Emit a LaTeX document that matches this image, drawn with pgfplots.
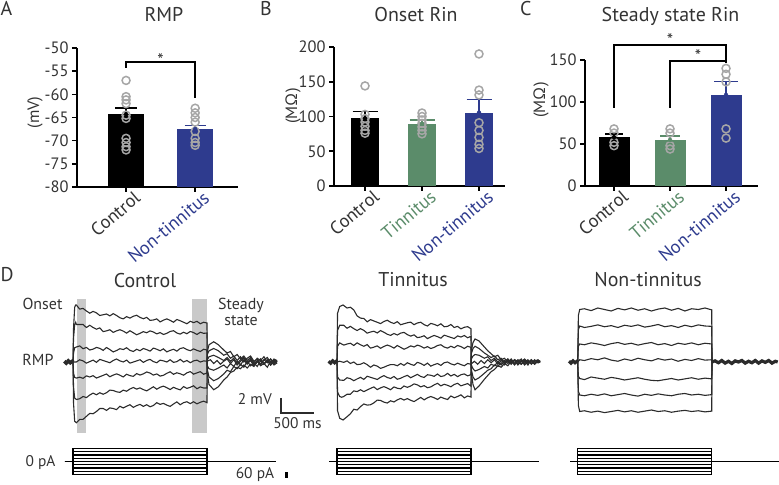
\documentclass[border=0pt]{standalone}
\usepackage{pgfplots}
\pgfplotsset{compat=1.18}
\usepackage{fontspec}
\setmainfont{PT Sans}
\definecolor{nblue}{HTML}{2E3B8E}
\definecolor{tgreen}{HTML}{5B8C6A}
\definecolor{ptgray}{HTML}{A6A6A6}
\definecolor{band}{HTML}{C9C9C9}
\definecolor{txt}{HTML}{333333}
\definecolor{trace}{HTML}{2B2B2B}
\newcommand{\fs}[1]{\fontsize{#1}{#1}\selectfont}
\pgfplotsset{
  barax/.style={
    scale only axis, anchor=south west, clip=false,
    axis x line=bottom, axis y line=left,
    axis line style={-, line width=1.6bp, black},
    every outer x axis line/.append style={-},
    every outer y axis line/.append style={-},
    tick align=outside, major tick length=5bp,
    tick style={line width=1.6bp, black},
    tick label style={font=\fs{16.5}, text=txt},
    /pgf/number format/assume math mode=true,
    xticklabel style={xshift=14bp, yshift=-1bp, rotate=40, anchor=east, font=\fs{18.5}},
  },
  pts/.style={only marks, mark=o, mark size=4bp, mark options={draw=ptgray, fill=none, line width=1.5bp}},
  eb/.style n args={2}{only marks, mark=none, #1, error bars/.cd, y dir=plus, y explicit,
     error bar style={line width=1.5bp, #1}, error mark options={rotate=90, mark size=#2, line width=1.5bp, #1}},
  trax/.style={anchor=south west, hide axis, clip=false, x=0.067bp, y=7.5bp, xmin=-200, xmax=3700, ymin=-10, ymax=10},
  curax/.style={anchor=south west, hide axis, clip=false, x=0.067bp, y=0.1bp, xmin=-200, xmax=3700, ymin=-150, ymax=150},
  tr/.style={trace, line width=1.1bp},
}
\begin{document}
\begin{tikzpicture}
\path[use as bounding box] (0,0) rectangle (779bp,485bp);

% ---------------- Panel A ----------------
\begin{axis}[barax, at={(77bp,298bp)}, width=161bp, height=139bp,
  xmin=-0.71, xmax=1.62, ymin=-80, ymax=-50, ytick={-80,-75,...,-50},
  xtick={0,1}, xticklabels={Control, {\textcolor{nblue}{Non-tinnitus}}}]
\addplot[fill=black, draw=none] coordinates {(-0.26,-80) (-0.26,-64.3) (0.26,-64.3) (0.26,-80)} -- cycle;
\addplot[fill=nblue, draw=none] coordinates {(0.74,-80) (0.74,-67.5) (1.26,-67.5) (1.26,-80)} -- cycle;
\addplot[pts] coordinates {(0,-57) (0,-60.5) (0,-61.2) (0,-62) (0,-64.5) (0,-65.2) (0,-69.5) (0,-70.4) (0,-71.3) (0,-72)};
\addplot[pts] coordinates {(1,-63) (1,-64) (1,-65) (1,-66) (1,-68) (1,-69.5) (1,-70.4) (1,-71)};
\addplot[eb={black}{11bp}] coordinates {(0,-64.3) +- (0,1.4)};
\addplot[eb={nblue}{10.5bp}] coordinates {(1,-67.5) +- (0,0.8)};
\draw[line width=1.5bp, black] (axis cs:0,-54.3) |- (axis cs:1,-53) -- (axis cs:1,-60.8);
\node[font=\fs{18}, text=txt, anchor=base, inner sep=0pt] at (axis cs:0.5,-53.9) {*};
\end{axis}

% ---------------- Panel B ----------------
\begin{axis}[barax, at={(334bp,299bp)}, width=171bp, height=139bp,
  xmin=-0.544, xmax=2.456, ymin=0, ymax=200, ytick={0,50,...,200},
  xtick={0,1,2}, xticklabels={Control, {\textcolor{tgreen}{Tinnitus}}, {\textcolor{nblue}{Non-tinnitus}}}]
\addplot[ybar, bar shift=0pt, bar width=28bp, fill=black, draw=none] coordinates {(0,97.4)};
\addplot[ybar, bar shift=0pt, bar width=28bp, fill=tgreen, draw=none] coordinates {(1,89.5)};
\addplot[ybar, bar shift=0pt, bar width=28bp, fill=nblue, draw=none] coordinates {(2,105.5)};
\addplot[pts] coordinates {(0,144) (0,103) (0,97) (0,92) (0,86) (0,80) (0,76)};
\addplot[pts] coordinates {(1,105) (1,100) (1,95) (1,90) (1,85) (1,80) (1,75)};
\addplot[pts] coordinates {(2,190) (2,138) (2,131) (2,91) (2,80) (2,70) (2,60) (2,54)};
\addplot[eb={black}{12.5bp}] coordinates {(0,97.4) +- (0,9.6)};
\addplot[eb={tgreen}{12.5bp}] coordinates {(1,89.5) +- (0,5.5)};
\addplot[eb={nblue}{12.5bp}] coordinates {(2,105.5) +- (0,19)};
\end{axis}

% ---------------- Panel C ----------------
\begin{axis}[barax, at={(585bp,299bp)}, width=173bp, height=126bp,
  xmin=-0.518, xmax=2.571, ymin=0, ymax=150, ytick={0,50,100,150},
  xtick={0,1,2}, xticklabels={Control, {\textcolor{tgreen}{Tinnitus}}, {\textcolor{nblue}{Non-tinnitus}}}]
\addplot[ybar, bar shift=0pt, bar width=31bp, fill=black, draw=none] coordinates {(0,58)};
\addplot[ybar, bar shift=0pt, bar width=31bp, fill=tgreen, draw=none] coordinates {(1,54.8)};
\addplot[ybar, bar shift=0pt, bar width=31bp, fill=nblue, draw=none] coordinates {(2,108.3)};
\addplot[pts] coordinates {(0,68) (0,63) (0,52) (0,48)};
\addplot[pts] coordinates {(1,68) (1,63) (1,48) (1,44)};
\addplot[pts] coordinates {(2,140) (2,133) (2,124) (2,68) (2,57)};
\addplot[eb={black}{9bp}] coordinates {(0,58) +- (0,4)};
\addplot[eb={tgreen}{10bp}] coordinates {(1,54.8) +- (0,4.7)};
\addplot[eb={nblue}{12bp}] coordinates {(2,108.3) +- (0,16.3)};
\draw[line width=1.5bp, black] (axis cs:0,93) |- (axis cs:2,168) -- (axis cs:2,150);
\draw[line width=1.5bp, black] (axis cs:1,93) |- (axis cs:2,149) -- (axis cs:2,146);
\node[font=\fs{18}, text=txt, anchor=base, inner sep=0pt] at (axis cs:1,166.5) {*};
\node[font=\fs{18}, text=txt, anchor=base, inner sep=0pt] at (axis cs:1.5,147.5) {*};
\end{axis}

% ---------------- Panel D: Control voltage ----------------
\begin{axis}[trax, at={(59.6bp,48bp)}]
\addplot[fill=band, draw=none] coordinates {(64,8.4) (190,8.4) (190,-9.47) (64,-9.47)} -- cycle;
\addplot[fill=band, draw=none] coordinates {(1770,8.4) (2000,8.4) (2000,-9.47) (1770,-9.47)} -- cycle;
\addplot[trace, line width=3.5bp] coordinates {(-130,0.1) (-100,-0.15) (-70,0.15) (-40,-0.1) (-10,0.1) (0,0)};
\addplot[tr] coordinates {(0,0) (8,4.5) (25,7.3) (40,7.6) (50,7.6) (100,7.05) (150,7.15) (200,6.8) (250,6.5) (300,6.75) (350,6.55) (400,6.2) (450,6.3) (500,6.4) (550,6.15) (600,6.45) (650,6.2) (700,5.9) (750,5.75) (800,6.05) (850,5.85) (900,6.1) (950,6.23) (1000,5.95) (1050,5.77) (1100,5.95) (1150,5.55) (1200,5.6) (1250,5.75) (1300,5.35) (1350,5.58) (1400,5.75) (1450,5.55) (1500,5.3) (1550,5.67) (1600,5.5) (1650,5.3) (1700,5.1) (1750,5.43) (1800,5.25) (1850,5.42) (1900,5.1) (1950,5.3) (2000,5.2) (2005,-1.5) (2030,-3.0) (2100,-3.7) (2170,-3.3) (2250,-2.4) (2300,-2.0) (2350,-1.4) (2400,-1.2) (2450,-0.7) (2500,-0.9) (2550,-0.4) (2600,-0.8) (2650,-0.3) (2700,-0.6) (2750,0.1) (2800,-0.5) (2850,-0.2) (2900,-0.7) (2950,0.1) (3000,-0.4) (3045,-0.1)};
\addplot[tr] coordinates {(0,0) (8,3.2) (25,5.0) (40,5.3) (50,5.0) (100,5.0) (150,5.0) (200,4.6) (250,4.9) (300,4.6) (350,4.37) (400,4.55) (450,4.05) (500,4.15) (550,4.3) (600,3.95) (650,4.15) (700,4.3) (750,4.12) (800,3.85) (850,4.17) (900,3.9) (950,3.63) (1000,3.82) (1050,4.05) (1100,3.9) (1150,4.15) (1200,4.0) (1250,3.75) (1300,3.92) (1350,3.67) (1400,3.82) (1450,4.07) (1500,4.17) (1550,3.87) (1600,3.72) (1650,3.97) (1700,3.77) (1750,4.07) (1800,3.92) (1850,3.67) (1900,3.97) (1950,3.82) (2000,3.87) (2005,-1.0) (2030,-2.0) (2100,-2.5) (2170,-2.2) (2250,-1.6) (2300,-1.1) (2350,-1.3) (2400,-0.6) (2450,-0.9) (2500,-0.3) (2550,-0.7) (2600,0.1) (2650,-0.5) (2700,-0.1) (2750,-0.6) (2800,0.2) (2850,-0.3) (2900,0.3) (2950,-0.4) (3000,0.1) (3045,-0.2)};
\addplot[tr] coordinates {(0,0) (8,1.2) (25,1.9) (50,2.0) (100,2.15) (150,1.77) (200,1.94) (250,1.6) (300,1.72) (350,1.94) (400,1.82) (450,1.55) (500,1.93) (550,1.66) (600,1.34) (650,1.53) (700,1.77) (750,1.66) (800,1.9) (850,1.55) (900,1.4) (950,1.7) (1000,1.5) (1050,1.8) (1100,1.65) (1150,1.45) (1200,1.85) (1250,1.7) (1300,1.5) (1350,1.75) (1400,1.35) (1450,1.55) (1500,1.7) (1550,1.45) (1600,1.8) (1650,1.9) (1700,1.65) (1750,1.5) (1800,1.75) (1850,1.55) (1900,1.4) (1950,1.7) (2000,1.6) (2005,-0.5) (2030,-0.9) (2100,-1.1) (2170,-0.8) (2250,-0.4) (2300,-0.8) (2350,-0.2) (2400,-0.6) (2450,0.1) (2500,-0.4) (2550,0.3) (2600,-0.3) (2650,0.2) (2700,-0.5) (2750,0.1) (2800,0.4) (2850,-0.2) (2900,0.2) (2950,-0.4) (3000,0.3) (3045,0)};
\addplot[tr] coordinates {(0,0) (50,0.0) (100,0.3) (150,0.15) (200,-0.15) (250,0.05) (300,0.25) (350,-0.05) (400,0.35) (450,0.2) (500,0.05) (550,-0.1) (600,0.2) (650,0.4) (700,0.15) (750,0.0) (800,0.25) (850,-0.15) (900,0.0) (950,0.15) (1000,0.3) (1050,-0.05) (1100,0.2) (1150,0.35) (1200,0.05) (1250,-0.1) (1300,0.25) (1350,0.15) (1400,0.0) (1450,0.3) (1500,-0.05) (1550,0.05) (1600,0.35) (1650,0.0) (1700,0.2) (1750,-0.1) (1800,0.15) (1850,0.25) (1900,0.0) (1950,0.15) (2000,0.1) (2050,0.3) (2100,-0.2) (2150,0.2) (2200,-0.3) (2250,0.1) (2300,0.4) (2350,-0.2) (2400,0.3) (2450,-0.4) (2500,0.1) (2550,0.5) (2600,-0.1) (2650,0.3) (2700,-0.5) (2750,0.0) (2800,0.4) (2850,-0.3) (2900,0.2) (2950,-0.4) (3000,0.3) (3045,0)};
\addplot[tr] coordinates {(0,0) (8,-1.5) (25,-2.05) (50,-2.15) (100,-2.02) (150,-2.18) (200,-1.85) (250,-2.0) (300,-1.82) (350,-2.14) (400,-1.96) (450,-1.78) (500,-1.6) (550,-1.97) (600,-1.75) (650,-1.58) (700,-1.76) (750,-1.99) (800,-1.63) (850,-1.82) (900,-1.91) (950,-1.55) (1000,-1.74) (1050,-1.58) (1100,-1.33) (1150,-1.47) (1200,-1.75) (1250,-1.59) (1300,-1.88) (1350,-1.77) (1400,-1.51) (1450,-1.3) (1500,-1.64) (1550,-1.44) (1600,-1.57) (1650,-1.76) (1700,-1.45) (1750,-1.28) (1800,-1.62) (1850,-1.45) (1900,-1.29) (1950,-1.63) (2000,-1.47) (2005,0.3) (2030,0.7) (2100,0.9) (2170,0.6) (2250,0.2) (2300,0.6) (2350,0.1) (2400,0.5) (2450,-0.2) (2500,0.3) (2550,0.6) (2600,-0.1) (2650,0.4) (2700,-0.3) (2750,0.2) (2800,-0.4) (2850,0.3) (2900,-0.1) (2950,0.4) (3000,-0.2) (3045,0.1)};
\addplot[tr] coordinates {(0,0) (8,-3.3) (25,-4.8) (50,-5.0) (100,-4.9) (150,-4.6) (200,-4.75) (250,-4.4) (300,-4.15) (350,-4.37) (400,-4.1) (450,-4.3) (500,-4.1) (550,-3.75) (600,-3.8) (650,-3.97) (700,-4.05) (750,-3.75) (800,-3.9) (850,-3.6) (900,-3.4) (950,-3.62) (1000,-3.45) (1050,-3.68) (1100,-3.85) (1150,-3.58) (1200,-3.3) (1250,-3.63) (1300,-3.37) (1350,-3.22) (1400,-3.42) (1450,-3.67) (1500,-3.37) (1550,-3.57) (1600,-3.72) (1650,-3.27) (1700,-3.52) (1750,-3.37) (1800,-3.17) (1850,-3.57) (1900,-3.32) (1950,-3.47) (2000,-3.47) (2005,1.0) (2030,1.5) (2100,1.8) (2170,1.5) (2250,0.9) (2300,1.1) (2350,0.5) (2400,0.8) (2450,0.2) (2500,0.7) (2550,0.0) (2600,0.5) (2650,0.8) (2700,0.1) (2750,0.4) (2800,-0.3) (2850,0.3) (2900,0.6) (2950,-0.1) (3000,0.4) (3045,0.2)};
\addplot[tr] coordinates {(0,0) (8,-5.5) (25,-7.9) (50,-8.1) (100,-7.65) (150,-7.65) (200,-7.25) (250,-6.85) (300,-6.9) (350,-6.6) (400,-6.2) (450,-6.2) (500,-6.45) (550,-6.12) (600,-6.2) (650,-6.35) (700,-5.9) (750,-6.12) (800,-5.9) (850,-5.7) (900,-6.05) (950,-5.82) (1000,-5.65) (1050,-5.92) (1100,-5.7) (1150,-5.97) (1200,-5.8) (1250,-5.42) (1300,-5.65) (1350,-5.52) (1400,-5.75) (1450,-5.92) (1500,-5.6) (1550,-5.32) (1600,-5.7) (1650,-5.42) (1700,-5.3) (1750,-5.55) (1800,-5.3) (1850,-5.58) (1900,-5.37) (1950,-5.22) (2000,-5.42) (2005,1.4) (2030,2.3) (2100,2.7) (2170,2.3) (2250,1.6) (2300,1.2) (2350,1.4) (2400,0.7) (2450,1.0) (2500,0.4) (2550,0.8) (2600,0.2) (2650,0.6) (2700,-0.1) (2750,0.5) (2800,0.2) (2850,0.7) (2900,0.0) (2950,0.4) (3000,-0.2) (3045,0.2)};
\draw[trace, line width=2bp] (axis cs:3100,-4.8) -- (axis cs:3100,-6.8) -- (axis cs:3600,-6.8);
\end{axis}

% ---------------- Panel D: Tinnitus voltage ----------------
\begin{axis}[trax, at={(323.6bp,48bp)}]
\addplot[trace, line width=3.2bp] coordinates {(-125,0.1) (-95,-0.15) (-65,0.15) (-35,-0.1) (-10,0.1) (0,0)};
\addplot[tr] coordinates {(0,0) (8,6.5) (40,7.4) (90,7.6) (150,7.2) (200,7.3) (250,6.95) (300,6.15) (350,5.85) (400,5.8) (450,5.35) (500,5.65) (550,5.47) (600,5.3) (650,5.12) (700,5.4) (750,5.57) (800,5.3) (850,5.13) (900,5.38) (950,4.97) (1000,5.1) (1050,5.23) (1100,5.32) (1150,4.97) (1200,5.2) (1250,5.3) (1300,4.98) (1350,4.8) (1400,5.15) (1450,5.02) (1500,4.83) (1550,5.09) (1600,4.7) (1650,4.75) (1700,5.0) (1750,4.6) (1800,4.75) (1850,4.42) (1900,4.63) (1950,4.71) (2000,4.43) (2005,-1.5) (2030,-3.0) (2060,-3.7) (2120,-3.2) (2200,-2.3) (2250,-1.8) (2300,-1.3) (2350,-1.0) (2400,-0.5) (2450,-0.7) (2500,-0.2) (2550,-0.5) (2600,0.1) (2650,-0.4) (2700,0.2) (2750,-0.3) (2800,0.1) (2850,-0.4) (2900,0.3) (2950,-0.2) (3000,0.2) (3030,-0.1)};
\addplot[tr] coordinates {(0,0) (8,4.2) (40,4.9) (100,4.9) (150,4.5) (200,4.75) (250,4.45) (300,4.2) (350,4.45) (400,4.22) (450,3.85) (500,4.0) (550,4.1) (600,3.87) (650,4.19) (700,3.97) (750,3.7) (800,3.55) (850,3.8) (900,3.6) (950,3.85) (1000,3.95) (1050,3.65) (1100,3.45) (1150,3.62) (1200,3.25) (1250,3.33) (1300,3.5) (1350,3.12) (1400,3.35) (1450,3.54) (1500,3.38) (1550,3.18) (1600,3.58) (1650,3.43) (1700,3.28) (1750,3.13) (1800,3.48) (1850,3.33) (1900,3.53) (1950,3.23) (2000,3.43) (2005,-1.0) (2030,-2.0) (2060,-2.4) (2120,-2.1) (2200,-1.5) (2250,-1.1) (2300,-0.9) (2350,-0.4) (2400,-0.6) (2450,-0.1) (2500,-0.4) (2550,0.2) (2600,-0.3) (2650,0.3) (2700,-0.2) (2750,0.2) (2800,-0.4) (2850,0.1) (2900,-0.2) (2950,0.3) (3000,-0.1) (3030,0.2)};
\addplot[tr] coordinates {(0,0) (8,2.1) (40,2.55) (100,2.25) (150,2.4) (200,2.5) (250,2.2) (300,2.55) (350,2.3) (400,2.1) (450,2.32) (500,1.85) (550,1.98) (600,2.15) (650,1.83) (700,2.07) (750,2.26) (800,2.1) (850,1.85) (900,2.2) (950,1.95) (1000,1.7) (1050,1.9) (1100,2.15) (1150,2.0) (1200,2.25) (1250,2.1) (1300,1.85) (1350,2.05) (1400,1.8) (1450,1.95) (1500,2.2) (1550,2.3) (1600,2.0) (1650,1.85) (1700,2.1) (1750,1.9) (1800,2.2) (1850,2.05) (1900,1.8) (1950,2.1) (2000,1.95) (2005,-0.4) (2030,-0.9) (2060,-1.2) (2120,-1.0) (2200,-0.6) (2250,-0.8) (2300,-0.3) (2350,-0.5) (2400,0.0) (2450,-0.4) (2500,0.2) (2550,-0.2) (2600,0.3) (2650,-0.3) (2700,0.1) (2750,0.4) (2800,-0.2) (2850,0.2) (2900,-0.3) (2950,0.1) (3000,0.3) (3030,0)};
\addplot[tr] coordinates {(0,0) (40,0.1) (100,-0.05) (150,0.15) (200,-0.2) (250,0.0) (300,-0.35) (350,-0.3) (400,-0.1) (450,-0.35) (500,-0.7) (550,-0.4) (600,-0.55) (650,-0.85) (700,-0.7) (750,-0.5) (800,-0.35) (850,-0.35) (900,-0.5) (950,-0.2) (1000,-0.45) (1050,-0.1) (1100,-0.3) (1150,-0.45) (1200,-0.05) (1250,-0.2) (1300,-0.45) (1350,-0.15) (1400,-0.55) (1450,-0.35) (1500,-0.2) (1550,-0.45) (1600,-0.1) (1650,0.0) (1700,-0.25) (1750,-0.4) (1800,-0.15) (1850,-0.35) (1900,-0.5) (1950,-0.2) (2000,-0.3) (2050,0.1) (2100,-0.3) (2150,0.2) (2200,-0.2) (2250,0.3) (2300,-0.1) (2350,0.3) (2400,-0.3) (2450,0.2) (2500,-0.2) (2550,0.4) (2600,-0.1) (2650,0.2) (2700,-0.4) (2750,0.1) (2800,0.3) (2850,-0.2) (2900,0.2) (2950,-0.3) (3000,0.2) (3030,0)};
\addplot[tr] coordinates {(0,0) (8,-2.0) (40,-2.4) (100,-2.45) (150,-2.1) (200,-2.22) (250,-2.49) (300,-2.26) (350,-2.04) (400,-2.32) (450,-1.9) (500,-2.04) (550,-2.18) (600,-2.33) (650,-2.03) (700,-1.82) (750,-2.06) (800,-2.2) (850,-1.93) (900,-2.3) (950,-2.17) (1000,-1.95) (1050,-1.78) (1100,-2.1) (1150,-1.87) (1200,-1.65) (1250,-1.93) (1300,-2.06) (1350,-1.7) (1400,-1.77) (1450,-1.91) (1500,-1.6) (1550,-1.94) (1600,-1.83) (1650,-1.52) (1700,-1.86) (1750,-1.65) (1800,-1.95) (1850,-1.7) (1900,-1.59) (1950,-1.85) (2000,-1.68) (2005,0.4) (2030,0.8) (2060,1.0) (2120,0.9) (2200,0.5) (2250,0.7) (2300,0.2) (2350,0.5) (2400,0.0) (2450,0.4) (2500,-0.2) (2550,0.3) (2600,-0.1) (2650,0.3) (2700,-0.3) (2750,0.2) (2800,0.0) (2850,0.3) (2900,-0.2) (2950,0.2) (3000,-0.1) (3030,0.1)};
\addplot[tr] coordinates {(0,0) (8,-4.0) (40,-4.6) (70,-4.7) (100,-4.6) (150,-4.3) (200,-4.3) (250,-3.85) (300,-3.95) (350,-3.7) (400,-3.95) (450,-3.73) (500,-3.52) (550,-3.32) (600,-3.68) (650,-3.45) (700,-3.28) (750,-3.47) (800,-3.7) (850,-3.32) (900,-3.5) (950,-3.58) (1000,-3.2) (1050,-3.38) (1100,-3.2) (1150,-2.92) (1200,-3.05) (1250,-3.32) (1300,-3.15) (1350,-3.43) (1400,-3.32) (1450,-3.05) (1500,-2.84) (1550,-3.18) (1600,-2.97) (1650,-3.11) (1700,-3.3) (1750,-2.99) (1800,-2.84) (1850,-3.18) (1900,-3.03) (1950,-2.88) (2000,-3.22) (2005,1.1) (2030,1.8) (2060,2.1) (2120,1.8) (2200,1.2) (2250,0.9) (2300,0.6) (2350,0.8) (2400,0.3) (2450,0.5) (2500,0.0) (2550,0.4) (2600,-0.2) (2650,0.3) (2700,0.1) (2750,-0.3) (2800,0.2) (2850,-0.1) (2900,0.3) (2950,-0.2) (3000,0.1) (3030,0)};
\addplot[tr] coordinates {(0,0) (8,-6.5) (40,-7.5) (90,-7.73) (150,-7.3) (200,-6.9) (250,-6.3) (300,-6.4) (350,-5.95) (400,-5.6) (450,-5.75) (500,-5.7) (550,-5.45) (600,-5.08) (650,-5.13) (700,-5.35) (750,-5.47) (800,-5.17) (850,-5.33) (900,-5.05) (950,-4.86) (1000,-5.07) (1050,-4.88) (1100,-5.1) (1150,-5.28) (1200,-5.0) (1250,-4.72) (1300,-5.05) (1350,-4.78) (1400,-4.6) (1450,-4.77) (1500,-5.0) (1550,-4.68) (1600,-4.86) (1650,-5.0) (1700,-4.53) (1750,-4.77) (1800,-4.6) (1850,-4.38) (1900,-4.78) (1950,-4.53) (2000,-4.67) (2005,1.5) (2030,2.6) (2060,3.07) (2120,2.8) (2200,2.0) (2250,1.5) (2300,1.1) (2350,0.7) (2400,0.9) (2450,0.3) (2500,0.5) (2550,0.0) (2600,0.4) (2650,-0.2) (2700,0.3) (2750,0.0) (2800,0.4) (2850,-0.1) (2900,0.2) (2950,-0.3) (3000,0.2) (3030,0.1)};
\end{axis}

% ---------------- Panel D: Non-tinnitus voltage ----------------
\begin{axis}[trax, at={(564.3bp,48bp)}]
\addplot[trace, line width=3.2bp] coordinates {(-130,0.1) (-100,-0.15) (-70,0.15) (-40,-0.1) (-10,0.1) (0,0)};
\addplot[tr] coordinates {(0,0) (10,6.2) (30,7.0) (100,7.1) (200,6.85) (300,7.2) (400,7.0) (500,6.8) (600,7.15) (700,6.95) (800,7.2) (900,6.9) (1000,7.1) (1100,6.8) (1200,7.05) (1300,7.2) (1400,6.9) (1500,7.15) (1600,6.8) (1700,7.1) (1800,7.0) (1900,7.2) (2000,6.95) (2005,0)};
\addplot[tr] coordinates {(0,0) (10,4.3) (30,4.8) (100,4.6) (200,4.75) (300,4.95) (400,4.7) (500,4.85) (600,4.6) (700,4.9) (800,4.75) (900,4.95) (1000,4.65) (1100,4.8) (1200,5.0) (1300,4.7) (1400,4.85) (1500,4.6) (1600,4.9) (1700,4.7) (1800,4.95) (1900,4.8) (2000,4.75) (2005,0)};
\addplot[tr] coordinates {(0,0) (10,2.1) (30,2.4) (100,2.3) (200,2.55) (300,2.4) (400,2.2) (500,2.45) (600,2.6) (700,2.35) (800,2.5) (900,2.25) (1000,2.45) (1100,2.6) (1200,2.3) (1300,2.45) (1400,2.2) (1500,2.5) (1600,2.35) (1700,2.55) (1800,2.3) (1900,2.5) (2000,2.4) (2005,0)};
\addplot[tr] coordinates {(0,0) (30,0.3) (100,0.2) (200,0.45) (300,0.3) (400,0.55) (500,0.25) (600,0.1) (700,0.4) (800,0.2) (900,0.5) (1000,0.3) (1100,0.15) (1200,0.45) (1300,0.25) (1400,0.4) (1500,0.1) (1600,0.35) (1700,0.2) (1800,0.45) (1900,0.25) (2000,0.3) (2005,0)};
\addplot[tr] coordinates {(0,0) (10,-1.9) (30,-2.2) (100,-2.35) (200,-2.0) (300,-2.15) (400,-2.3) (500,-2.05) (600,-2.2) (700,-2.4) (800,-2.25) (900,-2.1) (1000,-2.3) (1100,-2.45) (1200,-2.5) (1300,-2.35) (1400,-2.2) (1500,-2.4) (1600,-2.25) (1700,-2.1) (1800,-2.3) (1900,-2.15) (2000,-2.25) (2005,0)};
\addplot[tr] coordinates {(0,0) (10,-3.9) (30,-4.4) (100,-4.5) (200,-4.3) (300,-4.45) (400,-4.25) (500,-4.5) (600,-4.35) (700,-4.2) (800,-4.4) (900,-4.55) (1000,-4.3) (1100,-4.45) (1200,-4.25) (1300,-4.4) (1400,-4.5) (1500,-4.3) (1600,-4.2) (1700,-4.4) (1800,-4.3) (1900,-4.45) (2000,-4.35) (2005,0)};
\addplot[tr] coordinates {(0,0) (10,-5.8) (30,-6.6) (100,-6.5) (200,-6.7) (300,-6.55) (400,-6.75) (500,-6.6) (600,-6.45) (700,-6.65) (800,-6.5) (900,-6.7) (1000,-6.55) (1100,-6.4) (1200,-6.6) (1300,-6.5) (1400,-6.7) (1500,-6.55) (1600,-6.45) (1700,-6.6) (1800,-6.5) (1900,-6.65) (2000,-6.55) (2005,0)};
\addplot[trace, line width=3.2bp] coordinates {(2000,0) (2050,0.15) (2100,-0.1) (2150,0.2) (2200,-0.15) (2250,0.1) (2300,-0.2) (2350,0.15) (2400,0) (2450,0.2) (2500,-0.15) (2550,0.1) (2600,-0.1) (2650,0.2) (2700,-0.15) (2750,0.15) (2800,-0.05) (2850,0.2) (2900,-0.15) (2950,0.1) (2985,0)};
\end{axis}

% ---------------- Panel D: current steps ----------------
\begin{axis}[curax, at={(59.6bp,8.5bp)}]
\pgfplotsinvokeforeach{-130,-97.5,-65,-32.5,0,32.5,65,97.5,130}{
\addplot[black, line width=1.2bp] coordinates {(-120,0) (0,0) (0,#1) (2000,#1) (2000,0) (3030,0)};}
\draw[black, line width=2.6bp] (axis cs:3183,-105) -- (axis cs:3183,-165);
\end{axis}
\begin{axis}[curax, at={(323.6bp,8.5bp)}]
\pgfplotsinvokeforeach{-130,-97.5,-65,-32.5,0,32.5,65,97.5,130}{
\addplot[black, line width=1.2bp] coordinates {(-115,0) (0,0) (0,#1) (2000,#1) (2000,0) (3020,0)};}
\end{axis}
\begin{axis}[curax, at={(564.3bp,8.5bp)}]
\pgfplotsinvokeforeach{-130,-97.5,-65,-32.5,0,32.5,65,97.5,130}{
\addplot[black, line width=1.2bp] coordinates {(-115,0) (0,0) (0,#1) (2000,#1) (2000,0) (3010,0)};}
\end{axis}

% ---------------- Text ----------------
\begin{scope}[every node/.style={text=txt, inner sep=0pt}]
\node[font=\fs{20}, anchor=base west] at (0.5bp,469bp) {A};
\node[font=\fs{20}, anchor=base west] at (260bp,469bp) {B};
\node[font=\fs{20}, anchor=base west] at (520bp,469bp) {C};
\node[font=\fs{20}, anchor=base west] at (0.5bp,203bp) {D};
\node[font=\fs{20}, anchor=base] at (164bp,463.7bp) {RMP};
\node[font=\fs{20}, anchor=base] at (416bp,463.5bp) {Onset Rin};
\node[font=\fs{20}, anchor=base] at (670.5bp,463.5bp) {Steady state Rin};
\node[font=\fs{16.5}, rotate=90] at (35bp,372.5bp) {(mV)};
\node[font=\fs{16.5}, rotate=90] at (293bp,379bp) {(MΩ)};
\node[font=\fs{16.5}, rotate=90] at (541bp,385bp) {(MΩ)};
\node[font=\fs{20}, anchor=base] at (145bp,197.3bp) {Control};
\node[font=\fs{20}, anchor=base] at (413bp,198.3bp) {Tinnitus};
\node[font=\fs{20}, anchor=base] at (648bp,198.3bp) {Non-tinnitus};
\node[font=\fs{16}, anchor=base] at (42.5bp,175bp) {Onset};
\node[font=\fs{16}, anchor=base] at (241bp,175bp) {Steady};
\node[font=\fs{16}, anchor=base] at (241bp,159bp) {state};
\node[font=\fs{16}, anchor=base] at (38bp,119bp) {RMP};
\node[font=\fs{15.5}, anchor=base east] at (272bp,80bp) {2 mV};
\node[font=\fs{15.5}, anchor=base] at (297.5bp,56bp) {500 ms};
\node[font=\fs{15.5}, anchor=base] at (40.5bp,18.3bp) {0 pA};
\node[font=\fs{15.5}, anchor=base] at (255bp,6.5bp) {60 pA};
\end{scope}
\end{tikzpicture}
\end{document}
